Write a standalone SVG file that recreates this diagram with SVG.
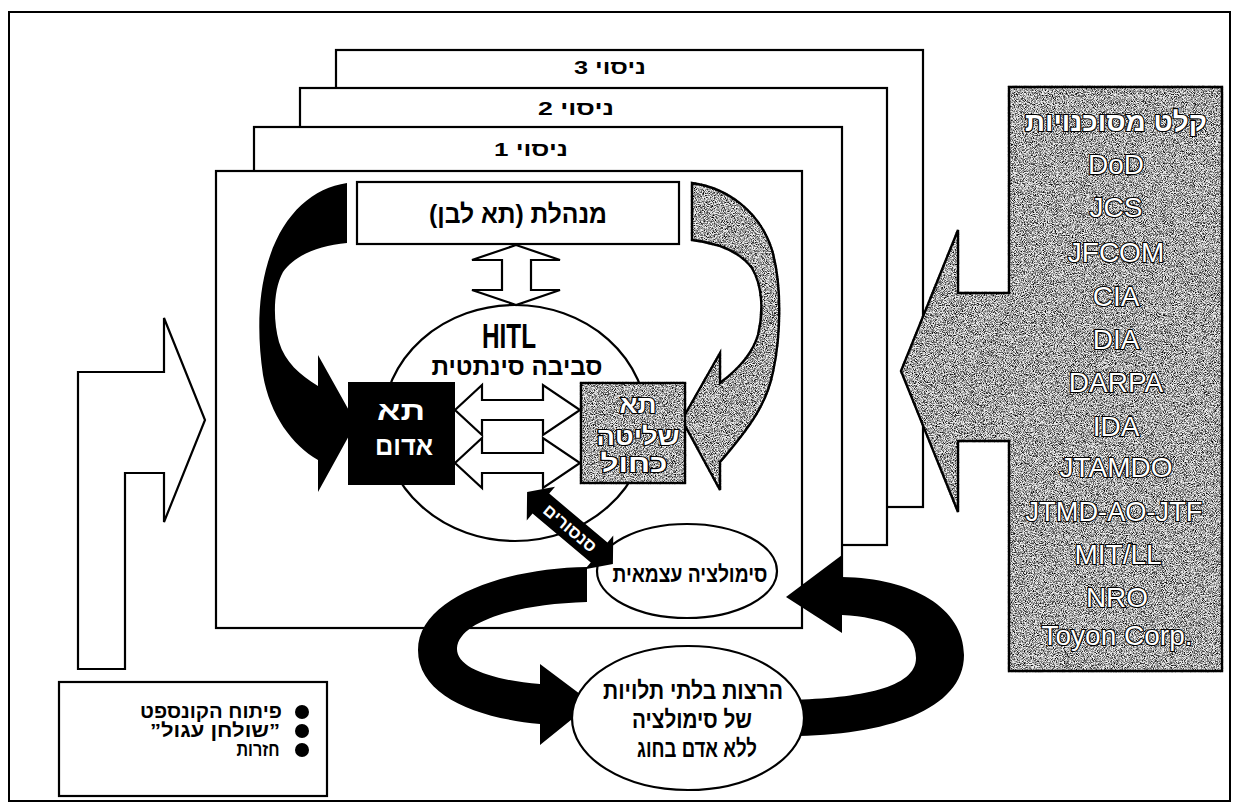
<svg xmlns="http://www.w3.org/2000/svg" width="1239" height="810" viewBox="0 0 1239 810">
<style>
  .ln{fill:#fff;stroke:#000;stroke-width:2.2}
  .bk{fill:#000;stroke:none}
  .gr{fill:#eeeeee;stroke:#000;stroke-width:2.4;filter:url(#grain)}
  .he{font-family:"Liberation Sans","DejaVu Sans",Arial,sans-serif;font-weight:bold;fill:#000}
  .en{font-family:"Liberation Sans",Arial,sans-serif;font-size:28px;fill:#fff;stroke:#000;stroke-width:2.2;paint-order:stroke;text-anchor:middle}
  .ol{fill:#fff;stroke:#000;stroke-width:2.2;paint-order:stroke}
</style>
<defs>
  <filter id="grain" x="-2%" y="-2%" width="104%" height="104%" color-interpolation-filters="sRGB">
    <feTurbulence type="fractalNoise" baseFrequency="1.1" numOctaves="2" seed="7" result="n"/>
    <feColorMatrix in="n" type="matrix" values="0 0 0 0 0  0 0 0 0 0  0 0 0 0 0  2.6 0 0 0 -1.0" result="dots"/>
    <feComposite in="dots" in2="SourceGraphic" operator="in" result="d2"/>
    <feMerge><feMergeNode in="SourceGraphic"/><feMergeNode in="d2"/></feMerge>
  </filter>
</defs>

<rect x="9" y="12" width="1221" height="789" fill="#fff" stroke="#000" stroke-width="2"/>

<g id="frames">
  <g id="frame3">
    <rect class="ln" x="336" y="50" width="587" height="457"/>
    <text class="he" x="610" y="74" font-size="19" text-anchor="middle" direction="rtl" textLength="72" lengthAdjust="spacingAndGlyphs">ניסוי 3</text>
  </g>
  <g id="frame2">
    <rect class="ln" x="300" y="88" width="587" height="457"/>
    <text class="he" x="576" y="115" font-size="19" text-anchor="middle" direction="rtl" textLength="76" lengthAdjust="spacingAndGlyphs">ניסוי 2</text>
  </g>
  <g id="frame1">
    <rect class="ln" x="254" y="127" width="588" height="458"/>
    <text class="he" x="531" y="156" font-size="19" text-anchor="middle" direction="rtl" textLength="74" lengthAdjust="spacingAndGlyphs">ניסוי 1</text>
  </g>
  <g id="mainframe">
    <rect class="ln" x="216" y="171" width="586" height="457"/>
  </g>
</g>

<g id="agencies">
  <path class="gr" d="M1009 87 H1222 V671 H1009 V441 H958 V512 L901 371 L958 230 V293 H1009 Z"/>
  <text class="he ol" x="1116" y="131" font-size="27" text-anchor="middle" direction="rtl" textLength="182" lengthAdjust="spacingAndGlyphs">קלט מסוכנויות</text>
  <text class="en" x="1116" y="174">DoD</text>
  <text class="en" x="1116" y="217">JCS</text>
  <text class="en" x="1116" y="262">JFCOM</text>
  <text class="en" x="1116" y="306">CIA</text>
  <text class="en" x="1116" y="349">DIA</text>
  <text class="en" x="1116" y="392">DARPA</text>
  <text class="en" x="1116" y="436">IDA</text>
  <text class="en" x="1116" y="477">JTAMDO</text>
  <text class="en" x="1114" y="521" textLength="177" lengthAdjust="spacingAndGlyphs">JTMD-AO-JTF</text>
  <text class="en" x="1118" y="564">MIT/LL</text>
  <text class="en" x="1117" y="607">NRO</text>
  <text class="en" x="1117" y="645">Toyon Corp.</text>
</g>

<g id="connectors">
  <path id="left-input" class="ln" stroke-width="2.5" d="M78 372 H164 V318 L205 420 L164 522 V473 H125 V669 H78 Z"/>
  <path id="mgmt-hitl" class="ln" d="M516 245 L560 260 H531 V290 H560 L516 305 L472 290 H502 V260 H472 Z"/>
  <path id="red-curve" class="bk" d="M347 183 L347 243 C318 246 295 255 283 272 C273 290 273 320 279 342 C285 362 300 375 318 386 L318 355 L356 423 L318 492 L318 460 C292 445 270 415 263 375 C257 335 258 295 268 262 C282 215 312 188 347 183 Z"/>
  <path id="blue-curve" class="gr" stroke-width="2.2" d="M692 183 C728 188 760 212 772 250 C782 285 781 335 773 372 C767 402 752 425 720 462 L720 490 L682 420 L720 353 L720 383 C740 368 753 352 758 335 C764 310 762 285 752 268 C740 252 718 243 692 240 Z"/>
  <path id="redblue-1" class="ln" d="M455 410 L482 385 V400 H543 V385 L580 410 L543 435 V420 H482 V435 Z"/>
  <path id="redblue-2" class="ln" d="M455 463 L482 438 V453 H543 V438 L580 463 L543 488 V473 H482 V488 Z"/>
  <path id="loop-down" class="bk" d="M587 567 C505 568 418 598 418 650 C418 695 475 718 540 724 L540 745 L592 703 L540 664 L540 684 C492 680 456 668 457 648 C459 622 515 604 587 602 Z"/>
  <path id="loop-up" class="bk" d="M790 700 C860 698 916 688 916 658 C916 630 884 617 842 615 L842 633 L786 597 L842 555 L842 577 C912 578 964 608 964 655 C964 710 885 736 790 736 Z"/>
</g>

<g id="management">
  <rect class="ln" x="357" y="182" width="322" height="62"/>
  <text class="he" x="518" y="223" font-size="26" text-anchor="middle" direction="rtl" textLength="178" lengthAdjust="spacingAndGlyphs">מנהלת (תא לבן)</text>
</g>

<g id="hitl">
  <ellipse cx="515" cy="423" rx="132" ry="118" fill="none" stroke="#000" stroke-width="2.2"/>
  <text class="he" x="509" y="348" font-size="35" text-anchor="middle" textLength="54" lengthAdjust="spacingAndGlyphs">HITL</text>
  <text class="he" x="517" y="375" font-size="25" text-anchor="middle" direction="rtl" textLength="171" lengthAdjust="spacingAndGlyphs">סביבה סינתטית</text>
</g>

<g id="red-cell">
  <rect x="348" y="382" width="107" height="103" fill="#000"/>
  <text class="he" x="401" y="420" font-size="27" text-anchor="middle" direction="rtl" textLength="48" lengthAdjust="spacingAndGlyphs" style="fill:#fff">תא</text>
  <text class="he" x="404" y="455" font-size="27" text-anchor="middle" direction="rtl" textLength="58" lengthAdjust="spacingAndGlyphs" style="fill:#fff">אדום</text>
</g>

<g id="blue-cell">
  <rect class="gr" x="581" y="383" width="104" height="100"/>
  <text class="he ol" x="638" y="413" font-size="24" text-anchor="middle" direction="rtl" textLength="37" lengthAdjust="spacingAndGlyphs">תא</text>
  <text class="he ol" x="638" y="445" font-size="24" text-anchor="middle" direction="rtl" textLength="83" lengthAdjust="spacingAndGlyphs">שליטה</text>
  <text class="he ol" x="634" y="472" font-size="24" text-anchor="middle" direction="rtl" textLength="67" lengthAdjust="spacingAndGlyphs">כחול</text>
</g>

<g id="self-sim">
  <ellipse cx="687" cy="571" rx="90" ry="47" fill="#fff" stroke="#000" stroke-width="2.2"/>
  <text class="he" x="690" y="582" font-size="23" text-anchor="middle" direction="rtl" textLength="155" lengthAdjust="spacingAndGlyphs">סימולציה עצמאית</text>
</g>

<g id="sensors">
  <g transform="translate(570,528) rotate(40)">
    <path class="bk" d="M-56 0 L-38 -22 L-38 -13 L38 -13 L38 -22 L56 0 L38 22 L38 13 L-38 13 L-38 22 Z"/>
    <text class="he" x="0" y="6" font-size="17" text-anchor="middle" direction="rtl" textLength="64" lengthAdjust="spacingAndGlyphs" style="fill:#fff">סנסורים</text>
  </g>
</g>

<g id="independent-runs">
  <ellipse cx="688" cy="718" rx="116" ry="72" fill="#fff" stroke="#000" stroke-width="2.2"/>
  <text class="he" x="693" y="699" font-size="24" text-anchor="middle" direction="rtl" textLength="180" lengthAdjust="spacingAndGlyphs">הרצות בלתי תלויות</text>
  <text class="he" x="692" y="728" font-size="24" text-anchor="middle" direction="rtl" textLength="120" lengthAdjust="spacingAndGlyphs">של סימולציה</text>
  <text class="he" x="697" y="757" font-size="24" text-anchor="middle" direction="rtl" textLength="120" lengthAdjust="spacingAndGlyphs">ללא אדם בחוג</text>
</g>

<g id="legend">
  <rect class="ln" x="59" y="682" width="268" height="114"/>
  <circle cx="302" cy="712" r="7" fill="#000"/>
  <circle cx="302" cy="731" r="7" fill="#000"/>
  <circle cx="302" cy="750" r="7" fill="#000"/>
  <text class="he" x="211" y="718" font-size="19" text-anchor="middle" direction="rtl" textLength="142" lengthAdjust="spacingAndGlyphs">פיתוח הקונספט</text>
  <text class="he" x="215" y="737" font-size="19" text-anchor="middle" direction="rtl" textLength="130" lengthAdjust="spacingAndGlyphs">”שולחן עגול”</text>
  <text class="he" x="258" y="756" font-size="19" text-anchor="middle" direction="rtl" textLength="43" lengthAdjust="spacingAndGlyphs">חזרות</text>
</g>
</svg>
